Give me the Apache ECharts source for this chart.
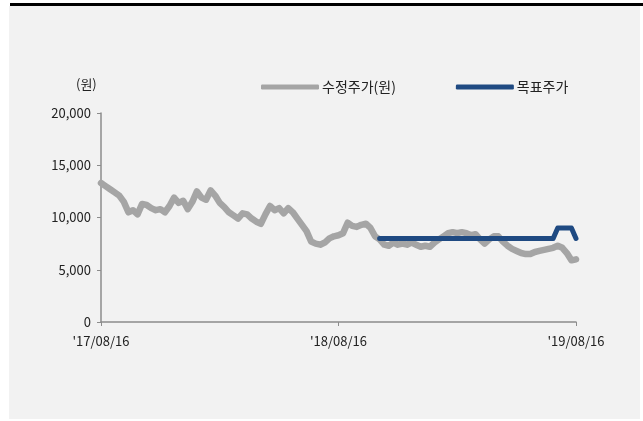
<!DOCTYPE html>
<html>
<head>
<meta charset="utf-8">
<title>수정주가 / 목표주가</title>
<script src="https://cdn.jsdelivr.net/npm/echarts@6/dist/echarts.min.js"></script>
<style>
  html, body { margin: 0; padding: 0; background: #fff; }
  #main { width: 643px; height: 421px; }
</style>
</head>
<body>
<div id="main"></div>
<script>
// weekly closes, '17/08/16 ~ '19/08/16
var price = [
  13300, 13000, 12700, 12400, 12100, 11500, 10500, 10700, 10300, 11300,
  11200, 10900, 10700, 10800, 10500, 11100, 11900, 11400, 11600, 10800,
  11500, 12500, 11900, 11700, 12600, 12100, 11400, 11000, 10500, 10200,
  9900, 10400, 10300, 9900, 9600, 9400, 10300, 11100, 10700, 10900,
  10400, 10900, 10500, 9900, 9300, 8700, 7700, 7500, 7400, 7600,
  8000, 8200, 8300, 8500, 9500, 9200, 9100, 9300, 9400, 9000,
  8200, 7900, 7400, 7300, 7600, 7400, 7500, 7400, 7600, 7400,
  7200, 7300, 7200, 7600, 7900, 8200, 8500, 8600, 8500, 8600,
  8500, 8300, 8400, 7900, 7500, 7900, 8200, 8200, 7700, 7300,
  7000, 6800, 6600, 6500, 6500, 6700, 6800, 6900, 7000, 7100,
  7300, 7100, 6600, 5900, 6000
];
// target price, starts mid '18/10
var target = [];
for (var i = 0; i < 61; i++) target.push(null);
target = target.concat([
  8000, 8000, 8000, 8000, 8000, 8000, 8000, 8000, 8000, 8000,
  8000, 8000, 8000, 8000, 8000, 8000, 8000, 8000, 8000, 8000,
  8000, 8000, 8000, 8000, 8000, 8000, 8000, 8000, 8000, 8000,
  8000, 8000, 8000, 8000, 8000, 8000, 8000, 8000, 8000,
  9000, 9000, 9000, 9000, 8000
]);
var tickLabels = ["'17/08/16", "'18/08/16", "'19/08/16"];
var yTicks = [0, 5000, 10000, 15000, 20000];

var categories = [];
for (var k = 0; k < price.length; k++) categories.push(k);

var font = '"Noto Sans CJK KR", "Noto Sans", sans-serif';
var myChart = echarts.init(document.getElementById('main'));
var option = {
    animation: false,
    textStyle: { fontFamily: font },
    graphic: [
        { type: 'rect', z: -10, shape: { x: 9, y: 6, width: 631, height: 413 }, style: { fill: '#f2f2f2' } },
        { type: 'rect', z: -9, shape: { x: 10, y: 3, width: 633, height: 3 }, style: { fill: '#000' } },
        { type: 'text', left: 76, top: 78, style: { text: '(원)', fontSize: 13, fill: '#222', fontFamily: font } }
    ],
    legend: {
        left: 256,
        top: 75,
        itemWidth: 58,
        itemHeight: 5,
        itemGap: 60,
        icon: 'roundRect',
        textStyle: { fontSize: 14, color: '#222', padding: [0, 0, 0, -2] },
        data: ['수정주가(원)', '목표주가']
    },
    grid: { left: 101, right: 67, top: 113, bottom: 99 },
    xAxis: {
        type: 'category',
        boundaryGap: false,
        data: categories,
        axisLine: { lineStyle: { color: '#8c8c8c', width: 1.5 } },
        axisTick: { interval: 51, length: 4, lineStyle: { color: '#8c8c8c' } },
        axisLabel: {
            interval: 51,
            fontSize: 13,
            color: '#222',
            margin: 13,
            formatter: function (v, idx) { return tickLabels[Math.round(idx / 52)]; }
        }
    },
    yAxis: {
        type: 'value',
        min: yTicks[0],
        max: yTicks[yTicks.length - 1],
        interval: 5000,
        splitLine: { show: false },
        axisLine: { show: true, lineStyle: { color: '#8c8c8c', width: 1.5 } },
        axisTick: { show: true, length: 4, lineStyle: { color: '#8c8c8c' } },
        axisLabel: {
            fontSize: 13,
            color: '#222',
            margin: 10,
            formatter: function (v) { return v.toLocaleString('en-US'); }
        }
    },
    series: [
        {
            name: '수정주가(원)',
            type: 'line',
            data: price,
            showSymbol: false,
            color: '#a5a5a5',
            lineStyle: { width: 6.5, cap: 'round', join: 'round' }
        },
        {
            name: '목표주가',
            type: 'line',
            data: target,
            showSymbol: false,
            color: '#1f4a82',
            lineStyle: { width: 5, cap: 'round', join: 'round' }
        }
    ]
};
myChart.setOption(option);
</script>
</body>
</html>
